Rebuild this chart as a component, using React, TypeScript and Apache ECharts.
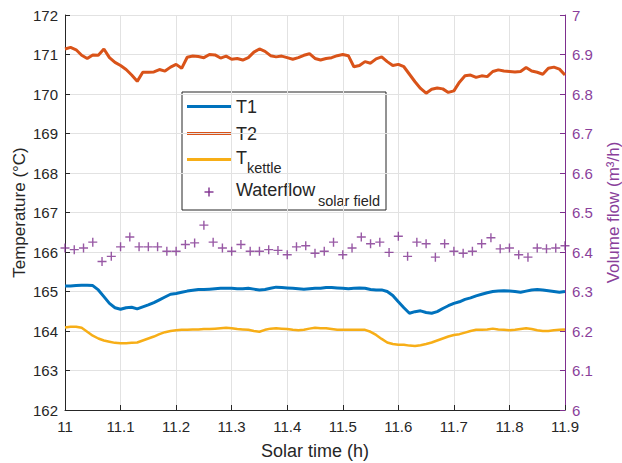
import React, { useEffect, useRef } from "react";
import * as echarts from "echarts";

// Sampling clocks: temperature logs every 0.01 h, flow meter every minute
const T_START = 11;
const T_STEP = 0.01;
const FLOW_STEP = 1 / 60;

const t1Values = [
  165.14, 165.14, 165.15, 165.16, 165.16, 165.15, 165.04, 164.87, 164.7, 164.59,
  164.55, 164.59, 164.6, 164.56, 164.61, 164.66, 164.72, 164.79, 164.86, 164.93,
  164.95, 164.98, 165.01, 165.03, 165.05, 165.05, 165.06, 165.07, 165.08, 165.08,
  165.08, 165.07, 165.07, 165.08, 165.06, 165.04, 165.05, 165.08, 165.11, 165.1,
  165.09, 165.08, 165.07, 165.06, 165.07, 165.08, 165.08, 165.1, 165.1, 165.09,
  165.08, 165.07, 165.08, 165.09, 165.08, 165.05, 165.04, 165.04, 165.0, 164.9,
  164.74, 164.59, 164.45, 164.49, 164.51, 164.47, 164.45, 164.49, 164.57, 164.64,
  164.7, 164.74, 164.8, 164.84, 164.89, 164.93, 164.97, 165.0, 165.01, 165.02,
  165.01, 165.0, 164.98, 165.01, 165.04, 165.05, 165.04, 165.02, 165.0, 164.98,
  165.0,
];

const t2Values = [
  171.14, 171.18, 171.12, 170.98, 170.9, 170.99, 170.98, 171.14, 170.92, 170.8,
  170.72, 170.62, 170.48, 170.32, 170.55, 170.55, 170.56, 170.62, 170.58, 170.68,
  170.75, 170.65, 170.93, 170.96, 170.95, 170.92, 171.0, 170.99, 170.91, 170.96,
  170.88, 170.9, 170.86, 170.92, 171.06, 171.14, 171.08, 170.97, 170.94, 170.96,
  170.92, 170.88, 170.92, 170.98, 171.02, 170.9, 170.86, 170.9, 170.92, 170.97,
  171.0, 170.97, 170.69, 170.72, 170.82, 170.78, 170.89, 170.94, 170.82, 170.72,
  170.75, 170.69, 170.5, 170.31, 170.14, 170.02, 170.12, 170.15, 170.13, 170.04,
  170.08, 170.3, 170.46, 170.48, 170.42, 170.46, 170.44, 170.57, 170.61, 170.58,
  170.57, 170.56, 170.57, 170.67, 170.58, 170.55, 170.5, 170.65, 170.68, 170.63,
  170.48,
];

const tKettleValues = [
  164.09, 164.11, 164.11, 164.08, 163.98, 163.88, 163.81, 163.76, 163.73, 163.7,
  163.69, 163.69, 163.7, 163.71, 163.76, 163.81, 163.86, 163.92, 163.97, 164.0,
  164.02, 164.03, 164.03, 164.04, 164.04, 164.05, 164.05, 164.06, 164.07, 164.08,
  164.07, 164.05, 164.04, 164.03, 164.0, 163.98, 164.03, 164.06, 164.07, 164.06,
  164.05, 164.03, 164.02, 164.03, 164.06, 164.08, 164.07, 164.07, 164.05, 164.03,
  164.03, 164.03, 164.03, 164.03, 164.03, 163.98, 163.9, 163.8, 163.71, 163.67,
  163.65, 163.65, 163.63, 163.62, 163.64, 163.67, 163.71, 163.76, 163.81, 163.86,
  163.9, 163.92, 163.96, 164.0, 164.03, 164.03, 164.04, 164.06, 164.04, 164.03,
  164.02, 164.03, 164.05, 164.07, 164.05, 164.02, 164.0, 164.0, 164.02, 164.03,
  164.04,
];

const flowValues = [
  6.41, 6.406, 6.41, 6.425, 6.376, 6.389, 6.413, 6.438, 6.413, 6.413,
  6.413, 6.402, 6.402, 6.419, 6.423, 6.468, 6.425, 6.41, 6.402, 6.419,
  6.402, 6.402, 6.406, 6.404, 6.393, 6.413, 6.416, 6.397, 6.402, 6.425,
  6.393, 6.41, 6.438, 6.421, 6.425, 6.399, 6.44, 6.389, 6.425, 6.421,
  6.387, 6.421, 6.402, 6.397, 6.402, 6.421, 6.436, 6.408, 6.41, 6.393,
  6.387, 6.41, 6.408, 6.41, 6.416,
];

const xTicks = { min: 11, max: 11.9, interval: 0.1 };
const tempTicks = { min: 162, max: 172, interval: 1 };
const flowTicks = { min: 6, max: 7, interval: 0.1 };

const BLUE = "#0072BD";
const ORANGE = "#D95319";
const YELLOW = "#F7AE17";
const PURPLE = "#7E2F8E";
const PURPLE_TEXT = "#8A3F9B";
const INK = "#262626";
const GRID = "#e2e2e2";
const FONT = "'Liberation Sans', Arial, Helvetica, sans-serif";

const PLUS = "path://M0,5L10,5M5,0L5,10";

const timed = (values: number[], step: number) =>
  values.map((v, i) => [T_START + i * step, v]);

const tickText = (v: number) => String(Number(v.toFixed(1)));

export default function App() {
  const ref = useRef<HTMLDivElement>(null);

  useEffect(() => {
    if (!ref.current) return;
    const chart = echarts.init(ref.current, null, { renderer: "svg" });

    const legendLine = (y: number, color: string) => ({
      type: "line",
      shape: { x1: 187, y1: y, x2: 232, y2: y },
      style: { stroke: color, lineWidth: 3 },
    });
    const legendText = (x: number, y: number, text: string, size: number) => ({
      type: "text",
      x,
      y,
      style: {
        text,
        fill: INK,
        font: `${size}px ${FONT}`,
        textVerticalAlign: "middle",
        verticalAlign: "middle",
      },
    });

    chart.setOption({
      animation: false,
      textStyle: { fontFamily: FONT },
      grid: { left: 65, right: 57, top: 15, bottom: 53, outerBoundsMode: "none" },
      xAxis: {
        type: "value",
        ...xTicks,
        name: "Solar time (h)",
        nameLocation: "middle",
        nameGap: 32,
        nameTextStyle: { fontSize: 18, color: INK, fontFamily: FONT },
        axisLine: { lineStyle: { color: INK, width: 1 } },
        axisTick: { inside: true, length: 5, lineStyle: { color: INK } },
        axisLabel: {
          margin: 9,
          fontSize: 15,
          color: INK,
          fontFamily: FONT,
          formatter: tickText,
        },
        splitLine: { show: true, lineStyle: { color: GRID, width: 1 } },
      },
      yAxis: [
        {
          type: "value",
          position: "left",
          ...tempTicks,
          name: "Temperature (°C)",
          nameLocation: "middle",
          nameGap: 37,
          nameMoveOverlap: false,
          nameTextStyle: { fontSize: 17, color: INK, fontFamily: FONT },
          axisLine: { show: true, lineStyle: { color: INK, width: 1 } },
          axisTick: { show: true, inside: true, length: 5, lineStyle: { color: INK } },
          axisLabel: { margin: 7, fontSize: 15, color: INK, fontFamily: FONT },
          splitLine: { show: true, lineStyle: { color: GRID, width: 1 } },
        },
        {
          type: "value",
          position: "right",
          ...flowTicks,
          name: "Volume flow (m³/h)",
          nameLocation: "middle",
          nameGap: 40,
          nameMoveOverlap: false,
          nameTextStyle: { fontSize: 17, color: PURPLE_TEXT, fontFamily: FONT },
          axisLine: { show: true, lineStyle: { color: PURPLE, width: 1 } },
          axisTick: { show: true, inside: true, length: 5, lineStyle: { color: PURPLE } },
          axisLabel: {
            margin: 7,
            fontSize: 15,
            color: PURPLE_TEXT,
            fontFamily: FONT,
            formatter: tickText,
          },
          splitLine: { show: false },
        },
      ],
      series: [
        {
          name: "T1",
          type: "line",
          data: timed(t1Values, T_STEP),
          showSymbol: false,
          symbol: "none",
          lineStyle: { color: BLUE, width: 3 },
          itemStyle: { color: BLUE },
          z: 3,
        },
        {
          name: "T2",
          type: "line",
          data: timed(t2Values, T_STEP),
          showSymbol: false,
          symbol: "none",
          lineStyle: { color: ORANGE, width: 3 },
          itemStyle: { color: ORANGE },
          z: 3,
        },
        {
          name: "Tkettle",
          type: "line",
          data: timed(tKettleValues, T_STEP),
          showSymbol: false,
          symbol: "none",
          lineStyle: { color: YELLOW, width: 2.5 },
          itemStyle: { color: YELLOW },
          z: 3,
        },
        {
          name: "Waterflow",
          type: "scatter",
          yAxisIndex: 1,
          data: timed(flowValues, FLOW_STEP),
          symbol: PLUS,
          symbolSize: 9,
          itemStyle: {
            color: "rgba(0,0,0,0)",
            borderColor: PURPLE,
            borderWidth: 1.4,
          },
          z: 4,
        },
      ],
      graphic: [
        {
          type: "group",
          z: 100,
          children: [
            {
              type: "rect",
              shape: { x: 182, y: 92, width: 204, height: 118 },
              style: { fill: "#ffffff", stroke: INK, lineWidth: 1 },
            },
            legendLine(106.5, BLUE),
            legendLine(133.5, ORANGE),
            legendLine(159.5, YELLOW),
            {
              type: "polyline",
              shape: { points: [[204.5, 192], [213.5, 192]] },
              style: { stroke: PURPLE, lineWidth: 1.4, fill: "none" },
            },
            {
              type: "polyline",
              shape: { points: [[209, 187.5], [209, 196.5]] },
              style: { stroke: PURPLE, lineWidth: 1.4, fill: "none" },
            },
            legendText(236, 107, "T1", 18),
            legendText(236, 134, "T2", 18),
            legendText(236, 158, "T", 18),
            legendText(247, 168, "kettle", 14.5),
            legendText(236, 190, "Waterflow", 18),
            legendText(318, 201, "solar field", 14.5),
          ],
        },
      ],
    });

    return () => chart.dispose();
  }, []);

  return (
    <div
      ref={ref}
      style={{ position: "fixed", left: 0, top: 0, width: 622, height: 463, background: "#ffffff" }}
    />
  );
}
